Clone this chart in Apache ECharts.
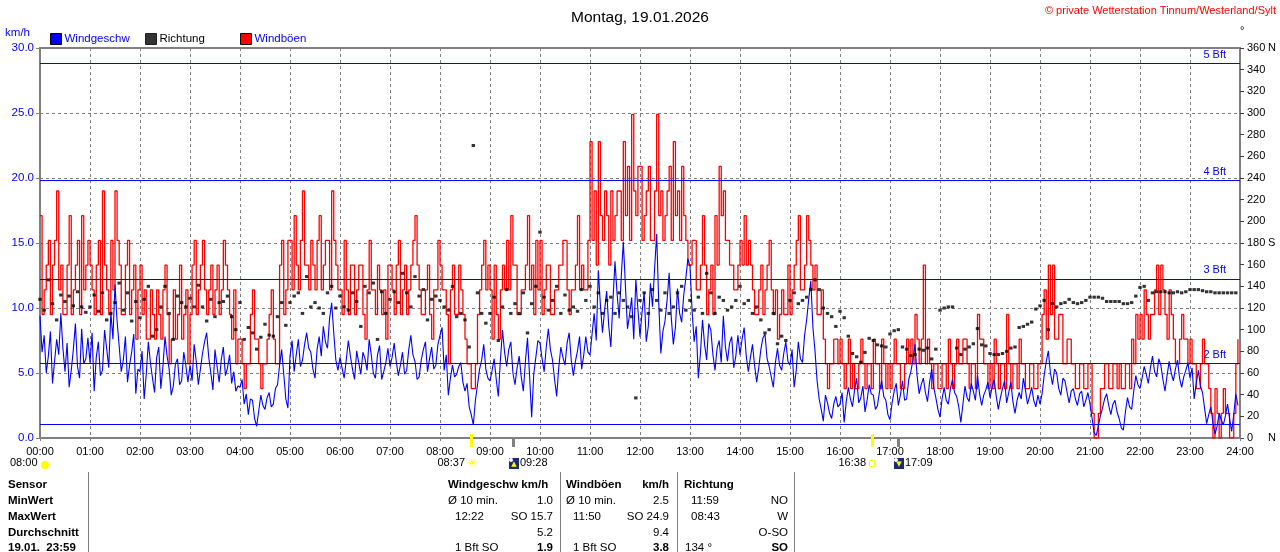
<!DOCTYPE html>
<html>
<head>
<meta charset="utf-8">
<title>Wind 19.01.2026</title>
<script src="https://cdn.jsdelivr.net/npm/echarts@6/dist/echarts.min.js"></script>
<style>
  html, body { margin: 0; padding: 0; background: #fff; }
  #chart { width: 1280px; height: 552px; }
</style>
</head>
<body>
<div id="chart"></div>
<script>
// wind speed and gusts: one sample every 2.5 minutes, one line per hour
const STEP = 2.5
// direction: one sample every 5 minutes
const DIR_STEP = 5

const speed = [
  9.4, 6.6, 7.9, 5.0, 6.3, 8.2, 4.2, 5.9, 7.6, 6.4, 9.6, 6.9, 5.1, 7.3, 3.9, 5.2, 6.8, 8.8, 5.5, 4.6, 8.4, 5.7, 6.1, 7.7,
  5.8, 8.1, 3.6, 6.2, 7.4, 4.8, 5.2, 8.3, 6.9, 5.4, 9.7, 7.6, 11.8, 9.0, 7.1, 5.1, 6.0, 7.8, 4.3, 5.6, 6.6, 8.0, 3.4, 5.3,
  5.1, 6.7, 3.0, 4.9, 7.4, 5.8, 4.6, 3.5, 6.2, 7.0, 3.8, 5.5, 7.8, 6.3, 5.3, 3.3, 4.0, 5.7, 6.1, 4.1, 4.4, 6.6, 5.6, 4.3,
  5.6, 4.4, 7.2, 5.9, 4.1, 5.3, 6.5, 7.4, 8.1, 6.2, 5.0, 3.7, 6.8, 5.5, 4.3, 6.0, 7.0, 4.8, 5.4, 6.4, 4.2, 5.1, 3.6, 4.0,
  3.9, 4.5, 2.6, 3.4, 1.8, 3.0, 2.9, 1.5, 0.9, 2.1, 3.3, 2.5, 2.2, 3.1, 3.5, 2.4, 2.6, 3.8, 4.1, 5.6, 6.8, 4.9, 3.0, 2.3,
  6.3, 7.5, 5.1, 6.4, 7.6, 5.5, 6.0, 7.2, 8.1, 6.9, 6.6, 5.3, 4.6, 6.8, 7.8, 6.3, 8.6, 7.4, 6.9, 9.2, 10.4, 8.1, 6.0, 5.2,
  6.2, 5.4, 4.6, 6.0, 7.5, 6.3, 5.3, 4.5, 6.7, 5.8, 4.9, 6.6, 6.1, 5.2, 7.6, 6.4, 5.0, 4.6, 6.4, 7.1, 4.5, 5.1, 5.8, 6.9,
  5.5, 6.2, 7.3, 5.9, 4.8, 5.6, 6.6, 4.9, 5.2, 6.8, 7.9, 6.4, 5.9, 4.5, 4.7, 6.0, 6.8, 7.4, 5.1, 6.1, 7.0, 5.3, 5.6, 7.2,
  7.9, 8.5, 5.2, 6.4, 3.3, 4.6, 5.6, 4.7, 4.9, 5.5, 5.8, 4.3, 3.6, 4.2, 2.4, 1.8, 1.0, 2.9, 4.1, 5.3, 6.0, 7.2, 5.3, 4.6,
  4.4, 5.2, 6.1, 4.5, 3.2, 6.0, 8.3, 6.6, 5.5, 6.8, 7.4, 5.0, 4.1, 5.4, 6.3, 4.7, 3.6, 5.9, 7.7, 4.8, 1.6, 4.9, 6.2, 7.5,
  7.3, 6.1, 5.1, 7.0, 8.4, 6.8, 6.0, 4.5, 3.2, 5.4, 7.0, 6.2, 5.6, 7.3, 8.1, 6.0, 4.8, 5.9, 6.7, 7.8, 5.3, 6.4, 7.8, 6.6,
  6.4, 8.0, 9.6, 7.5, 12.9, 10.2, 8.1, 9.8, 11.3, 8.6, 7.0, 10.5, 13.6, 11.1, 9.2, 12.4, 15.1, 11.7, 8.4, 9.5, 10.8, 7.6, 12.2, 9.9,
  7.8, 9.7, 11.2, 7.4, 8.6, 11.9, 10.1, 13.0, 15.7, 10.4, 6.5, 8.2, 9.0, 10.6, 12.7, 9.3, 7.2, 8.5, 11.5, 9.6, 8.9, 11.0, 12.3, 13.8,
  13.2, 9.8, 7.4, 8.6, 4.6, 6.5, 9.1, 7.2, 6.0, 8.8, 8.3, 6.4, 5.2, 6.9, 7.5, 5.8, 9.4, 7.0, 5.9, 7.3, 7.8, 5.4, 6.3, 7.9,
  6.4, 7.6, 8.5, 6.3, 5.1, 6.2, 7.2, 5.6, 4.3, 5.4, 6.8, 7.7, 8.0, 6.1, 5.5, 4.7, 3.9, 5.8, 6.9, 5.6, 5.2, 6.5, 7.4, 5.9,
  5.6, 6.8, 3.9, 5.2, 7.4, 6.1, 5.8, 7.9, 9.1, 10.7, 12.1, 8.5, 6.7, 4.4, 3.0, 2.2, 1.3, 3.3, 2.7, 1.9, 1.5, 2.6, 3.2, 2.4,
  2.6, 3.5, 1.2, 2.8, 3.9, 3.0, 2.4, 3.7, 4.6, 2.7, 3.1, 4.0, 2.0, 2.9, 4.1, 3.4, 3.3, 2.2, 2.5, 3.6, 4.4, 3.2, 2.9, 1.8,
  1.4, 2.7, 3.6, 4.2, 2.5, 3.3, 4.4, 2.9, 3.0, 4.5, 5.1, 6.0, 7.2, 4.8, 3.4, 4.1, 4.6, 3.5, 2.8, 4.3, 5.3, 3.9, 3.1, 2.2,
  1.6, 3.0, 3.9, 2.9, 2.6, 3.8, 4.5, 3.5, 3.2, 2.4, 1.2, 2.6, 4.0, 3.1, 2.8, 4.2, 3.6, 2.9, 4.8, 3.4, 2.5, 3.3, 3.7, 4.3,
  3.1, 3.9, 4.5, 3.2, 2.2, 3.1, 3.8, 4.4, 2.7, 3.5, 4.3, 2.8, 1.9, 2.9, 3.5, 3.0, 4.6, 3.7, 2.6, 3.2, 3.9, 2.9, 2.4, 3.3,
  2.6, 3.4, 4.8, 5.9, 6.7, 5.0, 4.1, 5.3, 5.0, 3.8, 3.3, 4.6, 4.4, 3.5, 2.7, 3.6, 3.8, 3.0, 2.5, 3.4, 3.6, 2.4, 2.9, 3.5,
  2.6, 1.5, 0.4, 0.2, 0.9, 1.7, 2.3, 3.0, 3.4, 2.5, 1.8, 2.6, 2.9, 2.0, 1.5, 0.8, 0.6, 2.0, 3.1, 2.4, 2.2, 3.6, 4.8, 4.1,
  3.8, 4.6, 5.5, 4.9, 4.2, 5.4, 6.3, 5.1, 4.7, 6.1, 5.6, 4.5, 3.6, 4.8, 5.9, 5.0, 4.4, 5.3, 6.0, 4.6, 3.9, 4.7, 5.2, 5.8,
  4.6, 5.4, 3.0, 4.2, 5.2, 4.0, 3.5, 2.3, 1.1, 1.8, 2.4, 1.2, 0.3, 0.9, 1.9, 1.4, 1.0, 1.7, 2.6, 1.5, 0.5, 1.8, 3.4, 2.5
]

const gusts = [
  17.1, 9.5, 11.4, 13.3, 15.2, 9.5, 13.3, 15.2, 19.0, 11.4, 13.3, 9.5, 9.5, 13.3, 17.1, 9.5, 11.4, 13.3, 15.2, 9.5, 17.1, 11.4, 13.3, 15.2,
  13.3, 11.4, 9.5, 13.3, 15.2, 9.5, 19.0, 13.3, 11.4, 9.5, 15.2, 11.4, 19.0, 15.2, 13.3, 9.5, 9.5, 13.3, 15.2, 9.5, 11.4, 13.3, 7.6, 11.4,
  13.3, 9.5, 11.4, 7.6, 7.6, 11.4, 9.5, 7.6, 11.4, 9.5, 7.6, 11.4, 13.3, 9.5, 5.7, 7.6, 11.4, 7.6, 9.5, 13.3, 7.6, 9.5, 11.4, 5.7,
  9.5, 13.3, 15.2, 9.5, 11.4, 13.3, 15.2, 11.4, 9.5, 11.4, 13.3, 9.5, 11.4, 13.3, 9.5, 11.4, 15.2, 13.3, 11.4, 9.5, 7.6, 11.4, 5.7, 7.6,
  7.6, 5.7, 3.8, 5.7, 5.7, 9.5, 11.4, 7.6, 7.6, 5.7, 3.8, 5.7, 5.7, 7.6, 9.5, 11.4, 7.6, 5.7, 5.7, 13.3, 15.2, 9.5, 11.4, 15.2,
  15.2, 11.4, 17.1, 13.3, 11.4, 15.2, 19.0, 13.3, 13.3, 11.4, 15.2, 13.3, 11.4, 15.2, 17.1, 11.4, 13.3, 15.2, 15.2, 11.4, 19.0, 15.2, 13.3, 11.4,
  11.4, 9.5, 15.2, 11.4, 9.5, 13.3, 13.3, 9.5, 11.4, 13.3, 13.3, 9.5, 7.6, 11.4, 15.2, 11.4, 11.4, 9.5, 13.3, 11.4, 9.5, 11.4, 7.6, 13.3,
  13.3, 11.4, 9.5, 13.3, 15.2, 9.5, 11.4, 13.3, 9.5, 11.4, 13.3, 15.2, 17.1, 13.3, 11.4, 9.5, 9.5, 11.4, 13.3, 9.5, 7.6, 11.4, 11.4, 15.2,
  13.3, 11.4, 11.4, 9.5, 5.7, 11.4, 13.3, 9.5, 9.5, 13.3, 11.4, 9.5, 7.6, 5.7, 5.7, 3.8, 3.8, 5.7, 9.5, 11.4, 13.3, 15.2, 11.4, 13.3,
  11.4, 7.6, 13.3, 9.5, 7.6, 11.4, 13.3, 11.4, 15.2, 11.4, 17.1, 13.3, 13.3, 9.5, 9.5, 11.4, 11.4, 13.3, 17.1, 11.4, 13.3, 9.5, 15.2, 11.4,
  15.2, 9.5, 11.4, 13.3, 13.3, 9.5, 9.5, 11.4, 11.4, 13.3, 13.3, 15.2, 15.2, 11.4, 9.5, 11.4, 11.4, 13.3, 17.1, 11.4, 13.3, 11.4, 11.4, 15.2,
  22.8, 15.2, 19.0, 13.3, 22.8, 17.1, 15.2, 19.0, 17.1, 13.3, 19.0, 15.2, 17.1, 19.0, 19.0, 15.2, 22.8, 17.1, 20.9, 15.2, 24.9, 19.0, 17.1, 20.9,
  20.9, 15.2, 17.1, 19.0, 20.9, 15.2, 15.2, 19.0, 24.9, 17.1, 19.0, 15.2, 17.1, 19.0, 20.9, 15.2, 22.8, 17.1, 19.0, 15.2, 20.9, 17.1, 15.2, 13.3,
  13.3, 15.2, 15.2, 11.4, 11.4, 13.3, 17.1, 13.3, 9.5, 11.4, 13.3, 9.5, 17.1, 13.3, 20.9, 17.1, 19.0, 15.2, 15.2, 13.3, 13.3, 11.4, 11.4, 13.3,
  15.2, 13.3, 17.1, 13.3, 15.2, 13.3, 11.4, 9.5, 9.5, 11.4, 13.3, 9.5, 11.4, 13.3, 15.2, 11.4, 9.5, 11.4, 7.6, 9.5, 11.4, 9.5, 9.5, 13.3,
  9.5, 11.4, 13.3, 15.2, 17.1, 11.4, 11.4, 13.3, 17.1, 15.2, 13.3, 11.4, 13.3, 9.5, 9.5, 11.4, 7.6, 5.7, 3.8, 5.7, 5.7, 7.6, 7.6, 5.7,
  7.6, 5.7, 3.8, 5.7, 7.6, 3.8, 5.7, 3.8, 3.8, 5.7, 7.6, 5.7, 3.8, 5.7, 5.7, 3.8, 7.6, 5.7, 5.7, 3.8, 7.6, 5.7, 3.8, 5.7,
  3.8, 5.7, 7.6, 5.7, 5.7, 3.8, 3.8, 5.7, 7.6, 5.7, 7.6, 5.7, 9.5, 7.6, 5.7, 7.6, 13.3, 5.7, 7.6, 5.7, 3.8, 5.7, 5.7, 3.8,
  3.8, 5.7, 5.7, 3.8, 7.6, 5.7, 3.8, 5.7, 7.6, 5.7, 5.7, 7.6, 7.6, 5.7, 3.8, 5.7, 5.7, 3.8, 9.5, 7.6, 7.6, 5.7, 5.7, 3.8,
  5.7, 3.8, 7.6, 5.7, 3.8, 5.7, 5.7, 3.8, 9.5, 5.7, 3.8, 5.7, 5.7, 3.8, 7.6, 5.7, 5.7, 3.8, 3.8, 5.7, 5.7, 3.8, 3.8, 5.7,
  5.7, 9.5, 11.4, 7.6, 13.3, 9.5, 13.3, 7.6, 7.6, 9.5, 9.5, 5.7, 5.7, 7.6, 7.6, 5.7, 5.7, 3.8, 3.8, 5.7, 5.7, 3.8, 3.8, 5.7,
  5.7, 1.9, 0, 0, 1.9, 3.8, 3.8, 5.7, 5.7, 3.8, 3.8, 5.7, 5.7, 3.8, 5.7, 3.8, 3.8, 5.7, 5.7, 3.8, 7.6, 5.7, 9.5, 7.6,
  9.5, 7.6, 11.4, 9.5, 7.6, 9.5, 9.5, 11.4, 13.3, 9.5, 13.3, 11.4, 9.5, 7.6, 11.4, 9.5, 7.6, 5.7, 5.7, 7.6, 9.5, 7.6, 7.6, 5.7,
  7.6, 5.7, 5.7, 3.8, 3.8, 5.7, 7.6, 5.7, 5.7, 3.8, 1.9, 0, 3.8, 1.9, 0, 1.9, 3.8, 1.9, 1.9, 0, 0, 1.9, 5.7, 7.6
]

const direction = [
  128, 118, 146, 124, 109, 132, 126, 131, 122, 135, 121, 116,
  121, 132, 117, 134, 109, 115, 125, 143, 118, 134, 108, 126,
  111, 128, 140, 94, 100, 121, 140, 115, 91, 131, 125, 121,
  129, 121, 141, 121, 108, 128, 112, 125, 126, 131, 112, 100,
  125, 91, 102, 97, 82, 93, 105, 95, 94, 112, 125, 104,
  125, 131, 134, 115, 149, 121, 125, 120, 115, 134, 140, 120,
  131, 121, 118, 134, 126, 103, 140, 134, 143, 91, 135, 115,
  128, 135, 125, 152, 134, 121, 149, 131, 137, 109, 128, 131,
  127, 121, 118, 140, 112, 115, 109, 84, 270, 134, 115, 106,
  115, 130, 90, 121, 137, 115, 124, 115, 134, 97, 124, 140,
  190, 130, 118, 127, 140, 115, 132, 118, 121, 117, 137, 127,
  140, 121, 134, 115, 127, 130, 115, 134, 127, 121, 112, 37,
  127, 134, 115, 137, 127, 118, 134, 115, 121, 134, 140, 118,
  127, 118, 130, 115, 152, 134, 115, 130, 127, 118, 121, 127,
  140, 124, 127, 115, 121, 109, 97, 100, 115, 87, 94, 90,
  127, 134, 124, 127, 130, 137, 146, 137, 120, 115, 112, 103,
  117, 111, 94, 78, 75, 70, 79, 92, 90, 86, 85, 84,
  96, 99, 100, 84, 82, 76, 77, 82, 81, 83, 73, 82,
  118, 120, 121, 121, 83, 77, 82, 84, 87, 101, 86, 85,
  78, 77, 77, 78, 80, 83, 84, 102, 103, 105, 107, 119,
  122, 127, 100, 124, 121, 124, 125, 128, 125, 124, 125, 127,
  130, 130, 130, 129, 126, 126, 126, 126, 124, 124, 125, 131,
  139, 140, 127, 134, 135, 135, 135, 134, 134, 135, 134, 135,
  137, 137, 137, 136, 135, 135, 134, 134, 134, 134, 134, 134
]

const hourLabels = [
  '00:00', '01:00', '02:00', '03:00', '04:00', '05:00', '06:00', '07:00', '08:00',
  '09:00', '10:00', '11:00', '12:00', '13:00', '14:00', '15:00', '16:00', '17:00',
  '18:00', '19:00', '20:00', '21:00', '22:00', '23:00', '24:00'
]
const compass = { 0: 'N', 180: 'S', 360: 'N' }

// Beaufort limits in km/h
const bftLimits = [1.08, 5.76, 12.24, 19.8, 28.8]
const bftNames = ['', '2 Bft', '3 Bft', '4 Bft', '5 Bft']

// sun / moon events under the time axis
const dayLength = '08:00'
const eventTimes = ['08:37', '09:28', '16:38', '17:09']
const eventKinds = ['sunrise', 'moonrise', 'sunset', 'moonset']

// statistics table
const rowNames = ['Sensor', 'MinWert', 'MaxWert', 'Durchschnitt', '19.01.  23:59']
const speedCol = [['Windgeschw km/h', ''], ['Ø 10 min.', '1.0'], ['12:22', 'SO 15.7'], ['', '5.2'], ['1 Bft SO', '1.9']]
const gustCol = [['Windböen', 'km/h'], ['Ø 10 min.', '2.5'], ['11:50', 'SO 24.9'], ['', '9.4'], ['1 Bft SO', '3.8']]
const dirCol = [['Richtung', ''], ['11:59', 'NO'], ['08:43', 'W'], ['', 'O-SO'], ['134 °', 'SO']]

const FONT = '"Liberation Sans", Arial, sans-serif'
const toMin = s => { const p = s.split(':'); return +p[0] * 60 + +p[1] }

const chart = echarts.init(document.getElementById('chart'), null, { renderer: 'canvas' })

function txt (x, y, text, opts) {
  opts = opts || {}
  const font = (opts.bold ? 'bold ' : '') + (opts.size || 11.5) + 'px ' + (opts.family || FONT)
  return {
    type: 'text', x: x, y: y, silent: true,
    style: {
      text: text, font: font, fill: opts.color || '#000',
      align: opts.align || 'left', textAlign: opts.align || 'left',
      verticalAlign: 'middle', textVerticalAlign: 'middle'
    }
  }
}

function vline (x, y1, y2, color, w) {
  return { type: 'line', silent: true, shape: { x1: x, y1: y1, x2: x, y2: y2 }, style: { stroke: color, lineWidth: w || 1 } }
}

// table graphics
const tableGraphics = []
const rowY = [485, 501, 517, 533, 548]
rowNames.forEach((n, i) => tableGraphics.push(txt(8, rowY[i], n, { bold: true })))
;[88.5, 560.5, 677.5, 794.5].forEach(x => tableGraphics.push(vline(x, 472, 552, '#808080')))
function addCol (col, xl, xIndent, xr) {
  col.forEach((c, i) => {
    const head = i === 0
    const last = i === col.length - 1
    const lx = head || c[0].startsWith('Ø') ? xl : xIndent
    if (c[0]) tableGraphics.push(txt(lx, rowY[i], c[0], { bold: head }))
    if (c[1]) tableGraphics.push(txt(xr, rowY[i], c[1], { bold: head || last, align: 'right' }))
  })
}
addCol(speedCol, 448, 455, 553)
addCol(gustCol, 566, 573, 669)
addCol(dirCol, 684, 691, 788)
// last direction value sits at the left edge
tableGraphics.forEach(g => { if (g.style && g.style.text === '134 °') g.x = 685 })

const legendBase = {
  icon: 'rect', itemWidth: 11, itemHeight: 11, top: 33, itemGap: 0, padding: 0,
  selectedMode: false,
  itemStyle: { borderColor: '#000', borderWidth: 1 },
  textStyle: { fontSize: 11.5, fontFamily: FONT, padding: [0, 0, 0, -2] }
}

const bftLine = { color: '#0000ff', width: 1, type: 'solid' }

chart.setOption({
  animation: false,
  backgroundColor: '#fff',
  textStyle: { fontFamily: FONT },
  title: {
    text: 'Montag, 19.01.2026', left: 'center', top: 5,
    textStyle: { fontSize: 15.5, fontWeight: 'normal', color: '#000', fontFamily: FONT }
  },
  legend: [
    Object.assign({}, legendBase, { left: 50, data: ['Windgeschw'], textStyle: Object.assign({}, legendBase.textStyle, { color: '#0000ff' }) }),
    Object.assign({}, legendBase, { left: 145, data: ['Richtung'], textStyle: Object.assign({}, legendBase.textStyle, { color: '#000' }) }),
    Object.assign({}, legendBase, { left: 240, data: ['Windböen'], textStyle: Object.assign({}, legendBase.textStyle, { color: '#0000ff' }) })
  ],
  grid: {
    left: 40, right: 40, top: 48, bottom: 114,
    show: true, borderColor: '#808080', borderWidth: 2,
    containLabel: false, outerBoundsMode: 'none'
  },
  xAxis: {
    type: 'value', min: 0, max: 1440, interval: 60,
    axisLine: { show: false },
    axisTick: { show: true, length: 3, lineStyle: { color: '#808080' } },
    axisLabel: { formatter: v => hourLabels[v / 60], color: '#000', fontSize: 11, margin: 8 },
    splitLine: { show: true, lineStyle: { color: '#808080', type: [3, 3], width: 1 } }
  },
  yAxis: [
    {
      type: 'value', min: 0, max: 30, interval: 5,
      name: 'km/h', nameLocation: 'end', nameGap: 9,
      nameTextStyle: { color: '#0000ff', fontSize: 11.5, align: 'right', padding: [0, 10, 0, 0] },
      axisLine: { show: false },
      axisTick: { show: true, length: 4, lineStyle: { color: '#808080' } },
      axisLabel: { formatter: v => v.toFixed(1), color: '#0000ff', fontSize: 11.5, margin: 6 },
      splitLine: { show: true, lineStyle: { color: '#808080', type: [3, 3], width: 1 } }
    },
    {
      type: 'value', min: 0, max: 360, interval: 20, position: 'right',
      name: '°', nameLocation: 'end', nameGap: 12,
      nameTextStyle: { color: '#000', fontSize: 11, align: 'left', padding: [0, 0, 0, 0] },
      axisLine: { show: false },
      axisTick: { show: true, length: 4, lineStyle: { color: '#404040' } },
      axisLabel: {
        color: '#000', fontSize: 11, margin: 7,
        formatter: v => compass[v] ? '{n|' + v + '}{d|' + compass[v] + '}' : String(v),
        rich: { n: { width: 21, fontSize: 11, color: '#000' }, d: { fontSize: 11, color: '#000' } }
      },
      splitLine: { show: false }
    }
  ],
  series: [
    {
      name: 'Windgeschw', type: 'line', yAxisIndex: 0, z: 3,
      data: speed.map((v, i) => [i * STEP, v]),
      showSymbol: false, symbol: 'none',
      color: '#0000ff',
      lineStyle: { color: '#0000ff', width: 1.1 },
      markLine: {
        silent: true, symbol: 'none', animation: false,
        lineStyle: bftLine,
        label: {
          show: true, position: 'insideEndTop', color: '#0000ff',
          fontSize: 11, distance: [14, 3], formatter: p => p.name
        },
        data: bftLimits.map((v, i) => ({ yAxis: v, name: bftNames[i], lineStyle: bftLine, label: { show: !!bftNames[i] } }))
      }
    },
    {
      name: 'Richtung', type: 'scatter', yAxisIndex: 1, z: 4,
      data: direction.map((v, i) => [i * DIR_STEP, v]),
      symbol: 'rect', symbolSize: [3.4, 3],
      color: '#000',
      itemStyle: { color: '#000' }
    },
    {
      name: 'Windböen', type: 'line', yAxisIndex: 0, z: 2,
      data: gusts.map((v, i) => [i * STEP, v]),
      step: 'end', showSymbol: false, symbol: 'none',
      color: '#ff0000',
      lineStyle: { color: '#ff0000', width: 1.3 }
    }
  ]
})

// sun and moon markers, placed through the time axis
const eventGraphics = []
const evY = 463
eventGraphics.push(txt(10, evY, dayLength, { size: 11 }))
eventGraphics.push({ type: 'circle', silent: true, shape: { cx: 45, cy: evY + 2, r: 4 }, style: { fill: '#ffff00' } })
eventTimes.forEach((t, i) => {
  const x = Math.round(chart.convertToPixel({ xAxisIndex: 0 }, toMin(t)))
  const kind = eventKinds[i]
  if (kind === 'sunrise' || kind === 'sunset') {
    eventGraphics.push({ type: 'rect', silent: true, shape: { x: x - 1, y: 434, width: 3, height: 13 }, style: { fill: '#ffff00' } })
    eventGraphics.push(txt(x - 6, evY, t, { size: 11, align: 'right' }))
    if (kind === 'sunrise') {
      eventGraphics.push(txt(x + 1, evY + 1, '☀', { size: 12, align: 'center', color: '#ffff00', family: '"DejaVu Sans"' }))
    } else {
      eventGraphics.push({ type: 'rect', silent: true, shape: { x: x - 2.5, y: evY - 2.5, width: 5, height: 6 }, style: { fill: '#fff', stroke: '#ffff00', lineWidth: 1 } })
    }
  } else {
    eventGraphics.push({ type: 'rect', silent: true, shape: { x: x - 1, y: 437, width: 3, height: 10 }, style: { fill: '#808080' } })
    eventGraphics.push({ type: 'rect', silent: true, shape: { x: x - 4, y: evY - 5, width: 10, height: 11 }, style: { fill: '#1c2a7a' } })
    eventGraphics.push({ type: 'circle', silent: true, shape: { cx: x - 2, cy: evY - 3, r: 2 }, style: { fill: '#ffffff' } })
    eventGraphics.push(txt(x + 1, evY + 1, kind === 'moonrise' ? '▲' : '▼', { size: 7, align: 'center', color: '#ffff00', family: '"DejaVu Sans"' }))
    eventGraphics.push(txt(x + 7, evY, t, { size: 11 }))
  }
})

chart.setOption({
  graphic: [
    {
      type: 'text', right: 4, top: 5, silent: true,
      style: { text: '© private Wetterstation Tinnum/Westerland/Sylt', fill: '#ff0000', font: '11px ' + FONT }
    }
  ].concat(tableGraphics, eventGraphics)
})
</script>
</body>
</html>
